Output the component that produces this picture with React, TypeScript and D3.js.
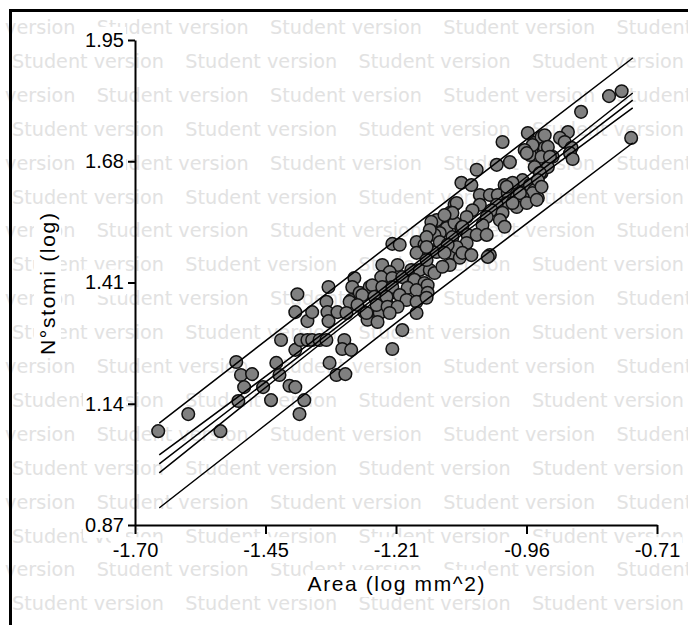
import { useEffect, useRef } from "react";
import * as d3 from "d3";

// axis ticks as printed on the chart
const xTickValues = [-1.7, -1.4525, -1.205, -0.9575, -0.71];
const xTickLabels = ["-1.70", "-1.45", "-1.21", "-0.96", "-0.71"];
const yTickValues = [0.87, 1.14, 1.41, 1.68, 1.95];
const yTickLabels = ["0.87", "1.14", "1.41", "1.68", "1.95"];

// scatter: Area (log mm^2) vs N°stomi (log)
const areaLog = [
  -1.656, -1.599, -1.538, -1.508, -1.499, -1.478, -1.493, -1.504, -1.457, -1.442,
  -1.432, -1.426, -1.407, -1.396, -1.388, -1.379, -1.423, -1.396, -1.386, -1.373,
  -1.364, -1.392, -1.396, -1.373, -1.364, -1.333, -1.337, -1.335, -1.333, -1.331,
  -1.35, -1.337, -1.318, -1.301, -1.316, -1.303, -1.307, -1.29, -1.29, -1.284,
  -1.288, -1.274, -1.255, -1.265, -1.259, -1.236, -1.24, -1.223, -1.214, -1.193,
  -1.212, -1.231, -1.202, -1.217, -1.233, -1.212, -1.193, -1.176, -1.16, -1.141,
  -1.132, -1.17, -1.151, -1.25, -1.231, -1.212, -1.183, -1.166, -1.145, -1.145,
  -1.269, -1.246, -1.223, -1.198, -1.185, -1.166, -1.147, -1.293, -1.278, -1.242,
  -1.221, -1.202, -1.261, -1.217, -1.166, -1.299, -1.212, -1.198, -1.166, -1.151,
  -1.157, -1.141, -1.128, -1.166, -1.147, -1.109, -1.098, -1.084, -1.103, -1.117,
  -1.081, -1.094, -1.103, -1.117, -1.128, -1.138, -1.109, -1.122, -1.132, -1.094,
  -1.081, -1.003, -0.955, -0.942, -0.948, -0.951, -0.929, -0.923, -0.929, -0.989,
  -1.014, -1.052, -1.062, -0.999, -0.98, -0.965, -0.951, -0.942, -0.942, -0.929,
  -0.936, -0.946, -1.046, -1.027, -1.012, -0.993, -0.976, -0.965, -0.995, -0.976,
  -1.014, -1.024, -1.046, -1.06, -1.09, -1.098, -1.113, -1.071, -1.079, -1.003,
  -1.008, -1.033, -1.041, -0.999, -1.141, -1.098, -1.069, -1.052, -1.033, -1.071,
  -1.09, -1.147, -1.122, -1.107, -1.147, -1.113, -1.079, -1.062, -1.027, -0.777,
  -0.801, -0.854, -0.759, -0.879, -0.894, -0.885, -0.923, -0.917, -0.946, -0.961,
  -0.957, -0.872, -0.875, -0.87, -0.908, -0.917, -0.932, -0.936, -0.929, -0.984,
  -0.995, -0.97, -0.984, -0.957, -0.938, -1.031, -0.913,
];
const stomiLog = [
  1.079, 1.117, 1.079, 1.233, 1.204, 1.206, 1.177, 1.146, 1.177, 1.148,
  1.231, 1.204, 1.18, 1.177, 1.117, 1.148, 1.282, 1.26, 1.282, 1.282,
  1.282, 1.384, 1.344, 1.324, 1.344, 1.4, 1.367, 1.344, 1.324, 1.231,
  1.282, 1.282, 1.204, 1.206, 1.344, 1.282, 1.262, 1.26, 1.371, 1.42,
  1.4, 1.387, 1.4, 1.344, 1.327, 1.342, 1.322, 1.364, 1.387, 1.304,
  1.262, 1.449, 1.449, 1.433, 1.422, 1.42, 1.422, 1.438, 1.438, 1.438,
  1.431, 1.416, 1.409, 1.404, 1.4, 1.4, 1.398, 1.393, 1.404, 1.387,
  1.382, 1.378, 1.378, 1.382, 1.371, 1.367, 1.376, 1.367, 1.36, 1.36,
  1.356, 1.356, 1.342, 1.342, 1.342, 1.342, 1.496, 1.494, 1.5, 1.494,
  1.478, 1.482, 1.478, 1.476, 1.46, 1.489, 1.476, 1.465, 1.449, 1.445,
  1.632, 1.583, 1.565, 1.549, 1.549, 1.545, 1.531, 1.52, 1.516, 1.543,
  1.531, 1.723, 1.743, 1.721, 1.705, 1.694, 1.734, 1.71, 1.69, 1.678,
  1.672, 1.661, 1.627, 1.627, 1.627, 1.638, 1.627, 1.616, 1.667, 1.654,
  1.598, 1.609, 1.605, 1.605, 1.605, 1.609, 1.6, 1.6, 1.587, 1.578,
  1.583, 1.571, 1.583, 1.571, 1.587, 1.565, 1.56, 1.556, 1.534, 1.565,
  1.549, 1.556, 1.538, 1.534, 1.527, 1.511, 1.516, 1.516, 1.516, 1.498,
  1.489, 1.511, 1.5, 1.494, 1.489, 1.476, 1.476, 1.471, 1.471, 1.836,
  1.825, 1.79, 1.732, 1.745, 1.732, 1.723, 1.738, 1.712, 1.716, 1.705,
  1.698, 1.71, 1.698, 1.685, 1.69, 1.667, 1.654, 1.638, 1.623, 1.632,
  1.623, 1.609, 1.587, 1.587, 1.594, 1.467, 1.69,
];

// regression line with confidence and prediction bands
const bandX = [-1.654, -1.205, -0.756];
const fitY = [1.006, 1.412, 1.816];
const confUpper = [1.026, 1.419, 1.832];
const confLower = [0.986, 1.405, 1.799];
const predUpper = [1.097, 1.505, 1.91];
const predLower = [0.908, 1.32, 1.721];

const FONT = "'Liberation Sans', Arial, sans-serif";

function App() {
  const svgRef = useRef<SVGSVGElement>(null);

  useEffect(() => {
    const Width = 688;
    const Height = 625;
    const svg = d3.select(svgRef.current);
    svg.selectAll("*").remove();

    const xScale = d3.scaleLinear().domain([-1.7, -0.71]).range([135, 657]);
    const yScale = d3.scaleLinear().domain([0.87, 1.95]).range([525, 40]);

    svg.append("rect").attr("width", Width).attr("height", Height).attr("fill", "#fff");

    // watermark rows
    const wm = svg
      .append("g")
      .attr("fill", "#e2e2e2")
      .style("font-family", "'DejaVu Sans', Verdana, sans-serif")
      .style("font-size", "19px");
    for (let k = 0; k < 18; k++) {
      const start = k % 2 ? 12 : -76.6;
      for (let xx = start; xx < Width; xx += 173.3) {
        wm.append("text")
          .attr("x", xx)
          .attr("y", 27 + 33.9 * k + 7)
          .attr("textLength", 152)
          .attr("lengthAdjust", "spacingAndGlyphs")
          .text("Student version");
      }
    }

    // frame
    svg
      .append("rect")
      .attr("x", 10.5)
      .attr("y", 10.5)
      .attr("width", 800)
      .attr("height", 800)
      .attr("fill", "none")
      .attr("stroke", "#000")
      .attr("stroke-width", 3);

    // white box behind a text node
    const boxText = (textNode: SVGTextElement | null, pad = 2) => {
      if (!textNode) return;
      const b = textNode.getBBox();
      d3.select(textNode.parentNode as SVGGElement)
        .insert("rect", () => textNode)
        .attr("x", b.x - pad)
        .attr("y", b.y - pad)
        .attr("width", b.width + pad * 2)
        .attr("height", b.height + pad * 2)
        .attr("fill", "#fff");
    };

    // axes
    const xAxis = d3
      .axisBottom(xScale)
      .tickValues(xTickValues)
      .tickSize(9)
      .tickSizeOuter(0)
      .tickPadding(9)
      .tickFormat((d, i) => xTickLabels[i]);
    const gx = svg.append("g").attr("transform", "translate(0,525)").call(xAxis);

    const yAxis = d3
      .axisLeft(yScale)
      .tickValues(yTickValues)
      .tickSize(7)
      .tickSizeOuter(0)
      .tickPadding(4)
      .tickFormat((d, i) => yTickLabels[i]);
    const gy = svg.append("g").attr("transform", "translate(135,0)").call(yAxis);

    [gx, gy].forEach((g) => {
      g.attr("font-family", FONT).attr("font-size", 20);
      g.selectAll("path, line").attr("stroke", "#000").attr("stroke-width", 2);
      g.selectAll("text").attr("fill", "#000");
      g.selectAll<SVGTextElement, unknown>("text").each(function () {
        boxText(this, 2);
      });
    });

    // axis titles
    const xt = svg.append("g").attr("transform", "translate(396,591)");
    const xtText = xt
      .append("text")
      .attr("text-anchor", "middle")
      .attr("font-family", FONT)
      .attr("font-size", 21)
      .attr("textLength", 177)
      .attr("lengthAdjust", "spacing")
      .text("Area (log mm^2)");
    boxText(xtText.node(), 2);

    const yt = svg.append("g").attr("transform", "translate(55,284) rotate(-90)");
    const ytText = yt
      .append("text")
      .attr("text-anchor", "middle")
      .attr("font-family", FONT)
      .attr("font-size", 21)
      .attr("textLength", 142)
      .attr("lengthAdjust", "spacing")
      .text("N°stomi (log)");
    boxText(ytText.node(), 2);

    // points
    svg
      .append("g")
      .selectAll("circle")
      .data(areaLog.map((a, i) => [a, stomiLog[i]]))
      .join("circle")
      .attr("cx", (d) => xScale(d[0]))
      .attr("cy", (d) => yScale(d[1]))
      .attr("r", 6.3)
      .attr("fill", "#808080")
      .attr("stroke", "#111")
      .attr("stroke-width", 1.5);

    // fit + bands
    const lineGen = d3
      .line<number>()
      .x((d, i) => xScale(bandX[i]))
      .y((d) => yScale(d))
      .curve(d3.curveNatural);

    svg
      .append("g")
      .selectAll("path")
      .data([predUpper, confUpper, fitY, confLower, predLower])
      .join("path")
      .attr("d", (d) => lineGen(d))
      .attr("fill", "none")
      .attr("stroke", "#000")
      .attr("stroke-width", 1.5);
  }, []);

  return (
    <svg
      ref={svgRef}
      width={688}
      height={625}
      style={{ position: "absolute", left: 0, top: 0 }}
    ></svg>
  );
}

export default App;
